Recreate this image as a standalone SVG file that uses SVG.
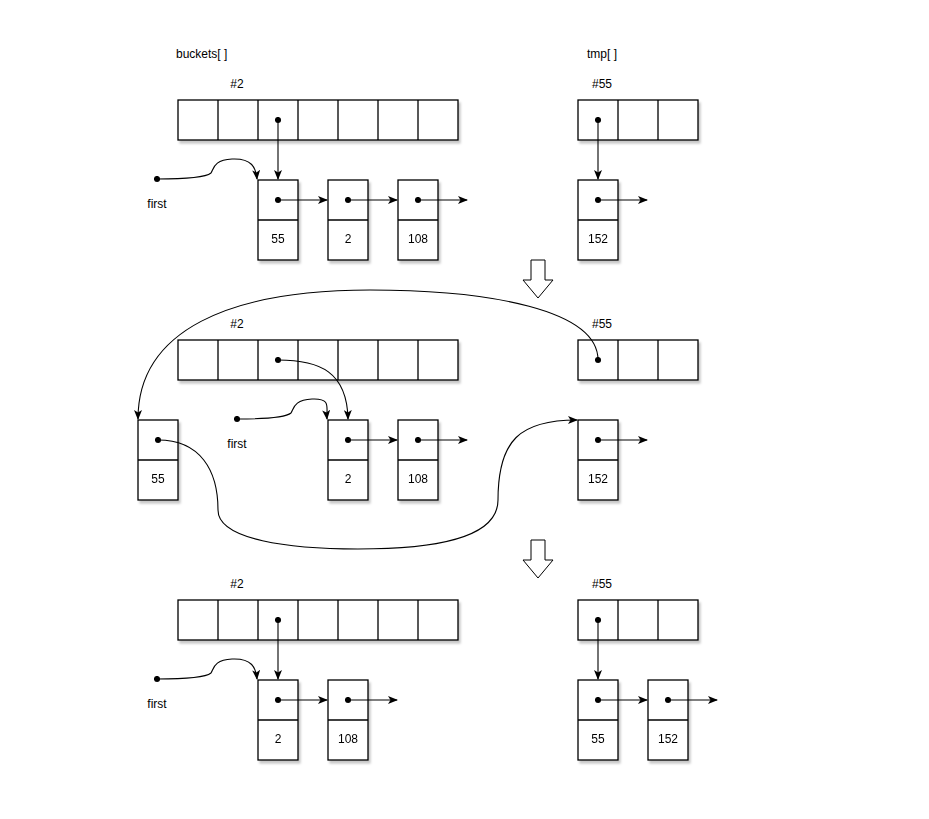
<svg xmlns="http://www.w3.org/2000/svg" width="929" height="819" viewBox="0 0 929 819">
<defs>
<filter id="sh" x="-20%" y="-20%" width="140%" height="140%">
<feDropShadow dx="2" dy="3" stdDeviation="1.2" flood-color="#000" flood-opacity="0.22"/>
</filter>
<marker id="ah" viewBox="0 0 10 8" refX="9" refY="4" markerWidth="10" markerHeight="8" markerUnits="userSpaceOnUse" orient="auto">
<path d="M0,0 L10,4 L0,8 L2.5,4 Z" fill="#000"/>
</marker>
<marker id="dot" viewBox="0 0 8 8" refX="4" refY="4" markerWidth="7" markerHeight="7" markerUnits="userSpaceOnUse" orient="auto">
<circle cx="4" cy="4" r="3.5" fill="#000"/>
</marker>
</defs>
<style>
.c{fill:#fff;stroke:#000;stroke-width:1.3}
.g{filter:url(#sh)}
.t{font-family:"Liberation Sans",Arial,sans-serif;font-size:12px;fill:#000}
.m{text-anchor:middle}
.e{fill:none;stroke:#000;stroke-width:1.1;marker-start:url(#dot);marker-end:url(#ah)}
.bar{fill:#fff;stroke:#000;stroke-width:1}
</style>
<rect width="929" height="819" fill="#fff"/>

<!-- ===== Stage 1 ===== -->
<g id="label-buckets"><text class="t" x="176" y="58">buckets[ ]</text></g>
<g id="label-tmp"><text class="t" x="587" y="58">tmp[ ]</text></g>
<g id="label-2a"><text class="t m" x="237" y="88">#2</text></g>
<g id="label-55a"><text class="t m" x="602" y="88">#55</text></g>
<g id="buckets1" class="g">
<rect class="c" x="178" y="100" width="280" height="40"/>
<path class="c" d="M218,100V140M258,100V140M298,100V140M338,100V140M378,100V140M418,100V140"/>
</g>
<g id="tmp1" class="g">
<rect class="c" x="578" y="100" width="120" height="40"/>
<path class="c" d="M618,100V140M658,100V140"/>
</g>
<g id="n55a" class="g"><rect class="c" x="258" y="180" width="40" height="80"/><path class="c" d="M258,220H298"/><text class="t m" x="278" y="243">55</text></g>
<g id="n2a" class="g"><rect class="c" x="328" y="180" width="40" height="80"/><path class="c" d="M328,220H368"/><text class="t m" x="348" y="243">2</text></g>
<g id="n108a" class="g"><rect class="c" x="398" y="180" width="40" height="80"/><path class="c" d="M398,220H438"/><text class="t m" x="418" y="243">108</text></g>
<g id="n152a" class="g"><rect class="c" x="578" y="180" width="40" height="80"/><path class="c" d="M578,220H618"/><text class="t m" x="598" y="243">152</text></g>
<g id="first1"><text class="t m" x="157" y="208">first</text></g>
<g id="bigarrow1"><path class="bar" d="M531,260H545V280H553L538,298L523,280H531Z"/></g>

<!-- ===== Stage 2 ===== -->
<g id="label-2b"><text class="t m" x="237" y="328">#2</text></g>
<g id="label-55b"><text class="t m" x="602" y="328">#55</text></g>
<g id="buckets2" class="g">
<rect class="c" x="178" y="340" width="280" height="40"/>
<path class="c" d="M218,340V380M258,340V380M298,340V380M338,340V380M378,340V380M418,340V380"/>
</g>
<g id="tmp2" class="g">
<rect class="c" x="578" y="340" width="120" height="40"/>
<path class="c" d="M618,340V380M658,340V380"/>
</g>
<g id="n55b" class="g"><rect class="c" x="138" y="420" width="40" height="80"/><path class="c" d="M138,460H178"/><text class="t m" x="158" y="483">55</text></g>
<g id="n2b" class="g"><rect class="c" x="328" y="420" width="40" height="80"/><path class="c" d="M328,460H368"/><text class="t m" x="348" y="483">2</text></g>
<g id="n108b" class="g"><rect class="c" x="398" y="420" width="40" height="80"/><path class="c" d="M398,460H438"/><text class="t m" x="418" y="483">108</text></g>
<g id="n152b" class="g"><rect class="c" x="578" y="420" width="40" height="80"/><path class="c" d="M578,460H618"/><text class="t m" x="598" y="483">152</text></g>
<g id="first2"><text class="t m" x="237" y="448">first</text></g>
<g id="bigarrow2"><path class="bar" d="M531,540H545V560H553L538,578L523,560H531Z"/></g>

<!-- ===== Stage 3 ===== -->
<g id="label-2c"><text class="t m" x="237" y="588">#2</text></g>
<g id="label-55c"><text class="t m" x="602" y="588">#55</text></g>
<g id="buckets3" class="g">
<rect class="c" x="178" y="600" width="280" height="40"/>
<path class="c" d="M218,600V640M258,600V640M298,600V640M338,600V640M378,600V640M418,600V640"/>
</g>
<g id="tmp3" class="g">
<rect class="c" x="578" y="600" width="120" height="40"/>
<path class="c" d="M618,600V640M658,600V640"/>
</g>
<g id="n2c" class="g"><rect class="c" x="258" y="680" width="40" height="80"/><path class="c" d="M258,720H298"/><text class="t m" x="278" y="743">2</text></g>
<g id="n108c" class="g"><rect class="c" x="328" y="680" width="40" height="80"/><path class="c" d="M328,720H368"/><text class="t m" x="348" y="743">108</text></g>
<g id="n55c" class="g"><rect class="c" x="578" y="680" width="40" height="80"/><path class="c" d="M578,720H618"/><text class="t m" x="598" y="743">55</text></g>
<g id="n152c" class="g"><rect class="c" x="648" y="680" width="40" height="80"/><path class="c" d="M648,720H688"/><text class="t m" x="668" y="743">152</text></g>
<g id="first3"><text class="t m" x="157" y="708">first</text></g>

<!-- ===== Connectors ===== -->
<g id="connectors">
<!-- stage 1 -->
<path class="e" d="M278,120V179"/>
<path class="e" d="M598,120V179"/>
<path class="e" d="M278,200H327"/>
<path class="e" d="M348,200H397"/>
<path class="e" d="M418,200H467"/>
<path class="e" d="M598,200H647"/>
<path class="e" d="M157,179C185,179 205,178 211,173C214,168 214,160 232,159C252,158 256,168 257,179"/>
<!-- stage 2 -->
<path class="e" d="M278,360C320,360 347,372 348,419"/>
<path class="e" d="M348,440H397"/>
<path class="e" d="M418,440H467"/>
<path class="e" d="M598,440H647"/>
<path class="e" d="M237,419C265,419 285,418 291,413C294,408 294,400 312,399C332,398 326,408 327,419"/>
<path class="e" d="M598,360C598,310 490,290 370,290C230,290 138,330 138,419"/>
<path class="e" d="M158,440C200,440 218,470 218,510C218,540 290,549 358,549C430,549 498,540 498,500C498,440 520,420 577,420"/>
<!-- stage 3 -->
<path class="e" d="M278,620V679"/>
<path class="e" d="M278,700H327"/>
<path class="e" d="M348,700H397"/>
<path class="e" d="M598,620V679"/>
<path class="e" d="M598,700H647"/>
<path class="e" d="M668,700H717"/>
<path class="e" d="M157,679C185,679 205,678 211,673C214,668 214,660 232,659C252,658 256,668 257,679"/>
</g>
</svg>
